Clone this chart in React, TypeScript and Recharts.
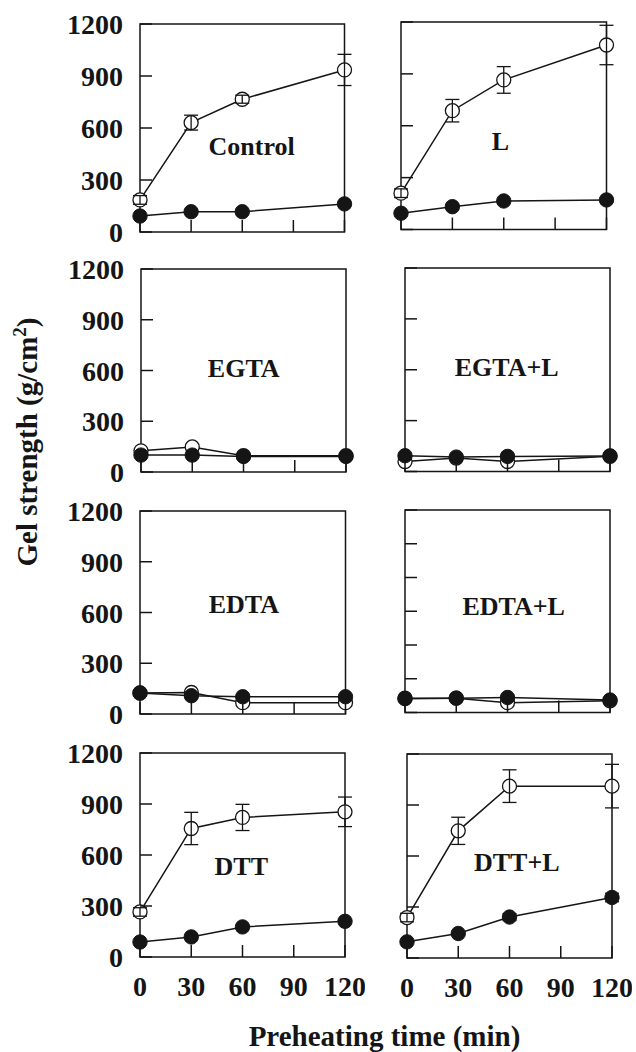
import React from "react";
import { LineChart, Line, XAxis, YAxis, ReferenceArea, ErrorBar } from "recharts";

// ---- data ----
const PREHEAT_MIN = [0, 30, 60, 120];
const X_TICKS = [0, 30, 60, 90, 120];
const Y_TICKS = [0, 300, 600, 900, 1200];
const Y_TICKS_FINE = [0, 200, 400, 600, 800, 1000, 1200];
const PANEL_NAMES = ["Control", "L", "EGTA", "EGTA+L", "EDTA", "EDTA+L", "DTT", "DTT+L"];

const controlOpen = [185, 631, 766, 935];
const controlOpenErr = [25, 43, 23, 90];
const controlFilled = [92, 117, 117, 162];

const lOpen = [210, 687, 865, 1067];
const lOpenErr = [25, 65, 77, 114];
const lFilled = [94, 132, 165, 171];

const egtaOpen = [125, 148, 96, 96];
const egtaFilled = [100, 100, 92, 92];

const egtaLOpen = [59, 79, 59, 90];
const egtaLFilled = [93, 85, 89, 92];

const edtaOpen = [124, 127, 67, 67];
const edtaFilled = [124, 108, 102, 102];

const edtaLOpen = [85, 85, 58, 69];
const edtaLFilled = [82, 85, 89, 74];

const dttOpen = [265, 756, 821, 854];
const dttOpenErr = [25, 95, 77, 87];
const dttFilled = [88, 118, 177, 210];

const dttLOpen = [238, 748, 1011, 1011];
const dttLOpenErr = [25, 80, 96, 128];
const dttLFilled = [95, 144, 241, 356];
const dttLFilledErr = [0, 0, 20, 25];

const SERIES = [
  { open: controlOpen, openErr: controlOpenErr, filled: controlFilled },
  { open: lOpen, openErr: lOpenErr, filled: lFilled },
  { open: egtaOpen, filled: egtaFilled },
  { open: egtaLOpen, filled: egtaLFilled },
  { open: edtaOpen, filled: edtaFilled },
  { open: edtaLOpen, filled: edtaLFilled },
  { open: dttOpen, openErr: dttOpenErr, filled: dttFilled },
  { open: dttLOpen, openErr: dttLOpenErr, filled: dttLFilled, filledErr: dttLFilledErr },
] as { open: number[]; openErr?: number[]; filled: number[]; filledErr?: number[] }[];

// ---- layout ----
const LAYOUT = [
  { left: 139.5, top: 24, w: 204.5, h: 208, yLab: true, xLab: false, yTicks: Y_TICKS, lx: 251.7, ly: 155 },
  { left: 401, top: 22, w: 205.5, h: 207.5, yLab: false, xLab: false, yTicks: Y_TICKS, lx: 500.5, ly: 149.5 },
  { left: 140.5, top: 268.5, w: 205, h: 203, yLab: true, xLab: false, yTicks: Y_TICKS, lx: 243.7, ly: 377.3 },
  { left: 404.5, top: 268, w: 205, h: 203.5, yLab: false, xLab: false, yTicks: Y_TICKS, lx: 506.7, ly: 376 },
  { left: 139.5, top: 510.5, w: 205.5, h: 203, yLab: true, xLab: false, yTicks: Y_TICKS, lx: 243.8, ly: 613.3 },
  { left: 405, top: 509.5, w: 205, h: 202.5, yLab: false, xLab: false, yTicks: Y_TICKS_FINE, lx: 513.7, ly: 615 },
  { left: 140, top: 753, w: 205, h: 204, yLab: true, xLab: true, yTicks: Y_TICKS, lx: 241.3, ly: 875 },
  { left: 406.5, top: 754, w: 205, h: 204, yLab: false, xLab: true, yTicks: Y_TICKS, lx: 516.8, ly: 870.7 },
];

const INK = "#151515";
const FONT = "'Liberation Serif', 'Times New Roman', Times, serif";
const AXIS_W = 130;
const TOP_M = 20;
const RIGHT_M = 20;
const X_AXIS_H = 50;
const TICK_LEN = 12;

const OpenDot = (p: any) =>
  p.cx == null ? <g key={p.index} /> : (
    <circle key={p.index} cx={p.cx} cy={p.cy} r={7} fill="#fff" stroke={INK} strokeWidth={1.3} />
  );
const FilledDot = (p: any) =>
  p.cx == null ? <g key={p.index} /> : (
    <circle key={p.index} cx={p.cx} cy={p.cy} r={7.2} fill={INK} stroke={INK} strokeWidth={1} />
  );

function Panel({ idx }: { idx: number }) {
  const s = SERIES[idx];
  const L = LAYOUT[idx];
  const W = L.w + AXIS_W + RIGHT_M;
  const H = L.h + TOP_M + X_AXIS_H;
  const plotBottom = TOP_M + L.h;
  const rows = PREHEAT_MIN.map((t, i) => ({
    t,
    o: s.open[i],
    oe: s.openErr ? s.openErr[i] : 0,
    f: s.filled[i],
    fe: s.filledErr ? s.filledErr[i] : 0,
  }));

  const yTick = (p: any) => {
    const y = p.y;
    return (
      <g key={`y${p.index}`}>
        <line x1={AXIS_W} x2={AXIS_W + TICK_LEN} y1={y} y2={y} stroke={INK} strokeWidth={1.5} />
        {L.yLab && (
          <text x={AXIS_W - 17} y={y + 10} textAnchor="end" fontFamily={FONT} fontWeight="bold" fontSize={28} fill={INK}>
            {p.payload.value}
          </text>
        )}
      </g>
    );
  };
  const xTick = (p: any) => {
    const x = p.x;
    return (
      <g key={`x${p.index}`}>
        <line x1={x} x2={x} y1={plotBottom} y2={plotBottom - TICK_LEN} stroke={INK} strokeWidth={1.5} />
        {L.xLab && (
          <text x={x} y={plotBottom + 39} textAnchor="middle" fontFamily={FONT} fontWeight="bold" fontSize={28} fill={INK}>
            {p.payload.value}
          </text>
        )}
      </g>
    );
  };

  const errProps: any = { direction: "y", width: 7, stroke: INK, strokeWidth: 1.3, isAnimationActive: false, zIndex: 1500 };

  return (
    <div style={{ position: "absolute", left: L.left - AXIS_W, top: L.top - TOP_M }}>
      <LineChart width={W} height={H} data={rows} margin={{ top: TOP_M, right: RIGHT_M, bottom: 0, left: 0 }}>
        <XAxis
          dataKey="t"
          type="number"
          domain={[0, 120]}
          ticks={X_TICKS}
          height={X_AXIS_H}
          axisLine={false}
          tickLine={false}
          tickSize={0}
          tick={xTick}
          interval={0}
        />
        <YAxis
          type="number"
          domain={[0, 1200]}
          ticks={L.yTicks}
          width={AXIS_W}
          axisLine={false}
          tickLine={false}
          tickSize={0}
          tick={yTick}
          interval={0}
        />
        <ReferenceArea x1={0} x2={120} y1={0} y2={1200} fill="none" fillOpacity={0} stroke={INK} strokeWidth={1.5} />
        <Line dataKey="o" stroke={INK} strokeWidth={1.5} dot={OpenDot} activeDot={false} isAnimationActive={false} />
        {s.openErr && (
          <Line dataKey="o" stroke="none" dot={false} activeDot={false} isAnimationActive={false} {...({ zIndex: 1500 } as any)}>
            <ErrorBar dataKey="oe" {...errProps} />
          </Line>
        )}
        <Line dataKey="f" stroke={INK} strokeWidth={1.5} dot={FilledDot} activeDot={false} isAnimationActive={false} />
        {s.filledErr && (
          <Line dataKey="f" stroke="none" dot={false} activeDot={false} isAnimationActive={false} {...({ zIndex: 1500 } as any)}>
            <ErrorBar dataKey="fe" {...errProps} />
          </Line>
        )}
      </LineChart>
    </div>
  );
}

export default function App() {
  return (
    <div style={{ position: "absolute", left: 0, top: 0, width: 636, height: 1052, background: "#fff" }}>
      {LAYOUT.map((_, i) => (
        <Panel key={i} idx={i} />
      ))}
      <svg width={636} height={1052} style={{ position: "absolute", left: 0, top: 0, pointerEvents: "none" }}>
        {LAYOUT.map((L, i) => (
          <text key={i} x={L.lx} y={L.ly} textAnchor="middle" fontFamily={FONT} fontWeight="bold" fontSize={26} fill={INK}>
            {PANEL_NAMES[i]}
          </text>
        ))}
        <text
          transform="translate(37,442) rotate(-90)"
          textAnchor="middle"
          fontFamily={FONT}
          fontWeight="bold"
          fontSize={29}
          fill={INK}
        >
          Gel strength (g/cm<tspan dy={-11} fontSize={19}>2</tspan>
          <tspan dy={11}>)</tspan>
        </text>
        <text x={384.5} y={1046} textAnchor="middle" fontFamily={FONT} fontWeight="bold" fontSize={29} fill={INK}>
          Preheating time (min)
        </text>
      </svg>
    </div>
  );
}
